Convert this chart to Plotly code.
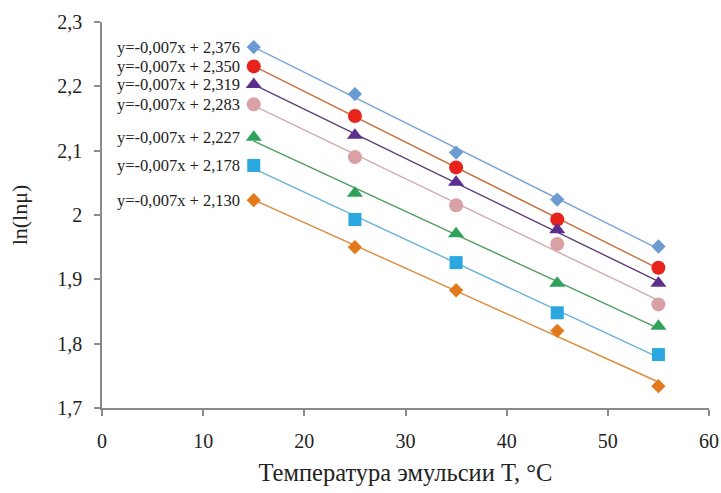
import numpy as np
import plotly.graph_objects as go

temps = [15, 25, 35, 45, 55]
s1 = [2.261, 2.188, 2.097, 2.024, 1.951]
s2 = [2.231, 2.154, 2.074, 1.993, 1.918]
s3 = [2.203, 2.124, 2.051, 1.977, 1.894]
s4 = [2.172, 2.090, 2.015, 1.955, 1.861]
s5 = [2.121, 2.034, 1.971, 1.894, 1.827]
s6 = [2.077, 1.993, 1.926, 1.848, 1.783]
s7 = [2.023, 1.950, 1.883, 1.820, 1.734]
series = [s1, s2, s3, s4, s5, s6, s7]
labels = ["y=-0,007x + 2,376", "y=-0,007x + 2,350", "y=-0,007x + 2,319",
          "y=-0,007x + 2,283", "y=-0,007x + 2,227", "y=-0,007x + 2,178",
          "y=-0,007x + 2,130"]
x_ticks = [0, 10, 20, 30, 40, 50, 60]
y_ticks = [1.7, 1.8, 1.9, 2.0, 2.1, 2.2, 2.3]

marker_colors = ["#6b9bd3", "#e8231c", "#5c2f8f", "#d9a1a3", "#2ea25a", "#2aa7df", "#e2791a"]
line_colors = ["#7ba4d6", "#c8703c", "#5a3c7a", "#d4a9a9", "#4f9d60", "#6ab2da", "#dc8a3c"]
symbols = ["diamond", "circle", "triangle-up", "circle", "triangle-up", "square", "diamond"]
sizes = [11, 14, 14, 14, 14, 13, 11]

fig = go.Figure()
for vals, mc, lc, sym, sz in zip(series, marker_colors, line_colors, symbols, sizes):
    k, b = np.polyfit(temps, vals, 1)
    xs = [temps[0], temps[-1]]
    fig.add_trace(go.Scatter(x=xs, y=[k * xs[0] + b, k * xs[1] + b], mode="lines",
                             line=dict(color=lc, width=1.4), showlegend=False,
                             hoverinfo="skip"))
    fig.add_trace(go.Scatter(x=temps, y=vals, mode="markers",
                             marker=dict(symbol=sym, size=sz, color=mc,
                                         line=dict(width=0)),
                             showlegend=False))

for vals, lab in zip(series, labels):
    fig.add_annotation(x=temps[0], y=vals[0], text=lab, showarrow=False,
                       xanchor="right", yanchor="middle", xshift=-12,
                       font=dict(family="Liberation Serif", size=16.5, color="#222"))

axis_common = dict(showgrid=False, zeroline=False, showline=True, automargin=False,
                   linecolor="#8a8a8a", linewidth=1.5, ticks="outside",
                   ticklen=6, tickcolor="#8a8a8a", tickwidth=1.5,
                   tickfont=dict(family="Liberation Serif", size=20, color="#222"))

fig.update_xaxes(range=[0, 60], tickvals=x_ticks, ticklabelstandoff=8,
                 title=dict(text="Температура эмульсии T, °C", standoff=13,
                            font=dict(family="Liberation Serif", size=24.5, color="#222")),
                 **axis_common)
fig.update_yaxes(range=[1.7, 2.3], tickvals=y_ticks, ticklabelstandoff=8,
                 title=dict(text="ln(lnμ)", standoff=24,
                            font=dict(family="Liberation Serif", size=22, color="#222")),
                 **axis_common)

fig.update_layout(width=721, height=493, separators=", ",
                  margin=dict(l=102, r=12, t=22, b=85),
                  plot_bgcolor="white", paper_bgcolor="white")

fig.write_html("out.html")
